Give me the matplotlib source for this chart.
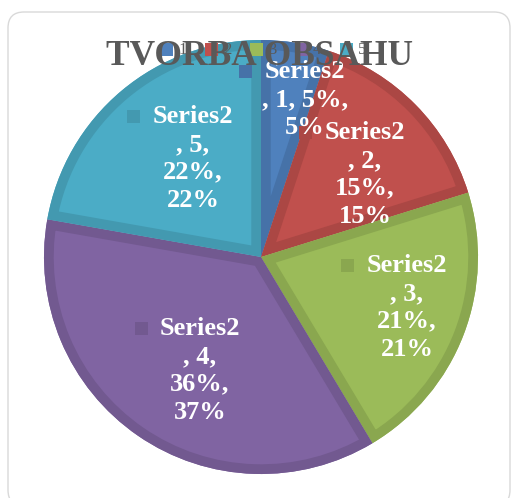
import matplotlib
matplotlib.use("Agg")
import matplotlib.pyplot as plt
from matplotlib.patches import Wedge, FancyBboxPatch, Rectangle

# ---- data ----
categories = ["1", "2", "3", "4", "5"]
series_name = "Series2"
values = [5, 15, 21, 36, 22]          # shown values (%)
percent_labels = [5, 15, 21, 37, 22]  # shown percentages
title = "TVORBA OBSAHU"

face_colors = ["#4f81bd", "#c0504d", "#9bbb59", "#8064a2", "#4bacc6"]
edge_colors = ["#4672a8", "#ab4744", "#8aa74f", "#725990", "#4399b0"]

W, H = 511, 498
fig = plt.figure(figsize=(W / 100, H / 100), dpi=100)
ax = fig.add_axes([0, 0, 1, 1])
ax.set_xlim(0, W)
ax.set_ylim(0, H)
ax.set_aspect("equal")
ax.axis("off")

def Y(y_img):
    return H - y_img

# rounded border of chart area
ax.add_patch(FancyBboxPatch((8, Y(506)), 502, 494,
                            boxstyle="round,pad=0,rounding_size=16",
                            fc="white", ec="#d9d9d9", lw=1.0, zorder=0))

cx, cy, R = 261, Y(257), 217
wedges, _ = ax.pie(values, colors=face_colors, startangle=90, counterclock=False,
                   radius=R, center=(cx, cy), frame=True,
                   wedgeprops=dict(linewidth=0))
ax.set_xlim(0, W)
ax.set_ylim(0, H)
ax.axis("off")

# inner darker border band on each wedge
for w, ec in zip(wedges, edge_colors):
    band = Wedge(w.center, w.r, w.theta1, w.theta2, fc="none", ec=ec, lw=14,
                 zorder=w.get_zorder() + 0.1)
    ax.add_patch(band)
    band.set_clip_path(w)

# data labels
label_font = dict(family="Liberation Serif", weight="bold", size=19, color="white")
label_layout = [  # (center x, top y) in image pixels, wrapped text
    (305, 60, "{s}\n, {c}, {v}%,\n{p}%"),
    (365, 121, "{s}\n, {c},\n{v}%,\n{p}%"),
    (407, 254, "{s}\n, {c},\n{v}%,\n{p}%"),
    (200, 317, "{s}\n, {c},\n{v}%,\n{p}%"),
    (193, 105, "{s}\n, {c},\n{v}%,\n{p}%"),
]
first_line_left = [265, 325, 367, 161, 153]
for i, (x, y, fmt) in enumerate(label_layout):
    txt = fmt.format(s=series_name, c=categories[i], v=values[i], p=percent_labels[i])
    ax.text(x, Y(y), txt, ha="center", va="top", multialignment="center",
            linespacing=1.27, zorder=5, **label_font)
    sx = first_line_left[i] - 26
    ax.add_patch(Rectangle((sx, Y(y + 18)), 13, 13, fc=edge_colors[i], ec="none", zorder=4))

# legend across top (under the title)
for i, c in enumerate(categories):
    lx = 160 + 45 * i
    ax.add_patch(Rectangle((lx, Y(56)), 13, 13, fc=face_colors[i], ec="none", zorder=6))
    ax.text(lx + 18, Y(50), c, ha="left", va="center", fontsize=12,
            family="Liberation Serif", color="#595959", zorder=6)

# title
ax.text(259, Y(56), title, ha="center", va="center", fontsize=25.5,
        family="Liberation Serif", weight="bold", color="#595959", zorder=7)

fig.savefig("out.png", dpi=100)
